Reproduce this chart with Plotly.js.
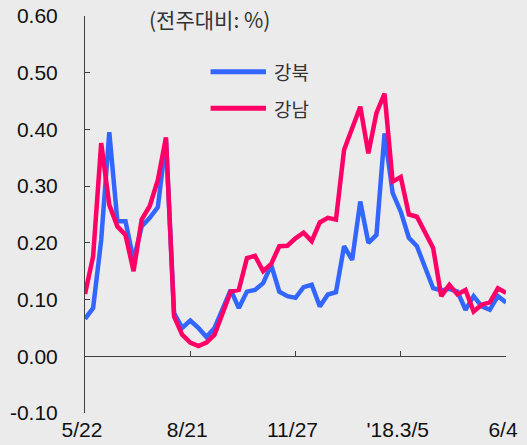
<!DOCTYPE html>
<html>
<head>
<meta charset="utf-8">
<script src="https://cdn.plot.ly/plotly-3.0.1.min.js"></script>
<style>
  html, body { margin: 0; padding: 0; background: #ebebeb; }
  #chart { width: 527px; height: 445px; }
</style>
</head>
<body>
<div id="chart"></div>
<script>
// Weekly apartment price change (week over week, %), 53 weeks
const weeks = Array.from({length: 53}, (_, i) => i);

const gangbuk = [
  0.066, 0.085, 0.205, 0.395, 0.238, 0.238, 0.170, 0.229, 0.244, 0.263,
  0.382, 0.076, 0.050, 0.063, 0.050, 0.034, 0.050, 0.085, 0.117, 0.085,
  0.114, 0.117, 0.129, 0.161, 0.114, 0.106, 0.103, 0.122, 0.126, 0.088,
  0.109, 0.113, 0.194, 0.170, 0.273, 0.200, 0.214, 0.393, 0.288, 0.255,
  0.209, 0.194, 0.156, 0.120, 0.116, 0.119, 0.114, 0.082, 0.106, 0.088,
  0.082, 0.106, 0.095
];

const gangnam = [
  0.110, 0.176, 0.376, 0.267, 0.229, 0.214, 0.150, 0.241, 0.265, 0.311,
  0.386, 0.070, 0.038, 0.024, 0.018, 0.024, 0.038, 0.076, 0.114, 0.117,
  0.173, 0.177, 0.150, 0.163, 0.194, 0.195, 0.208, 0.218, 0.203, 0.236,
  0.244, 0.241, 0.364, 0.402, 0.440, 0.358, 0.429, 0.463, 0.308, 0.316,
  0.250, 0.246, 0.217, 0.191, 0.106, 0.126, 0.109, 0.117, 0.079, 0.091,
  0.095, 0.120, 0.112
];

const seriesNames = ['강북', '강남'];
const seriesColors = ['#3366ff', '#ff0066'];

const tickWeeks = [0, 13, 26, 39, 52];
const tickLabels = ['5/22', '8/21', '11/27', "'18.3/5", '6/4'];

const yTickVals = [-0.1, 0, 0.1, 0.2, 0.3, 0.4, 0.5, 0.6];
const yTickLabels = ['-0.10', '0.00', '0.10', '0.20', '0.30', '0.40', '0.50', '0.60'];

const unitNote = '(전주대비: %)';

const axisColor = '#404040';
const labelFont = {family: 'Liberation Sans, Arial, sans-serif', size: 21, color: '#111'};
const hangulFont = {family: 'Noto Sans CJK KR, sans-serif', size: 19, color: '#333'};

const traces = [gangbuk, gangnam].map((vals, k) => ({
  x: weeks,
  y: vals,
  type: 'scatter',
  mode: 'lines',
  name: seriesNames[k],
  line: {color: seriesColors[k], width: 4.5},
  xaxis: 'x',
  yaxis: 'y',
  hoverinfo: 'skip'
}));

// hand-built legend: a short line and a label for each series
const legendY = [0.8597, 0.7675];
const legendShapes = legendY.map((py, k) => ({
  type: 'line', xref: 'paper', yref: 'paper',
  x0: 0.2983, x1: 0.4299, y0: py, y1: py,
  line: {color: seriesColors[k], width: 5}
}));
const legendLabels = legendY.map((py, k) => ({
  xref: 'paper', yref: 'paper', x: 0.443, y: py,
  xanchor: 'left', yanchor: 'middle', showarrow: false,
  text: seriesNames[k], font: hangulFont
}));

const layout = {
  width: 527,
  height: 445,
  paper_bgcolor: '#ebebeb',
  plot_bgcolor: '#ebebeb',
  showlegend: false,
  margin: {l: 85.3, r: 21.3, t: 16, b: 32, pad: 0},
  xaxis: {
    range: [0, 52],
    tickvals: tickWeeks,
    ticktext: tickLabels,
    ticks: '',
    showline: false,
    showgrid: false,
    zeroline: false,
    tickfont: labelFont,
    ticklabelshift: -3,
    ticklabelstandoff: 2
  },
  // baseline at zero carrying the week tick marks
  xaxis2: {
    overlaying: 'x',
    matches: 'x',
    anchor: 'free',
    position: 1 / 7,
    range: [0, 52],
    tickvals: tickWeeks,
    ticks: 'inside',
    ticklen: 5,
    tickcolor: axisColor,
    showticklabels: false,
    showline: true,
    linecolor: axisColor,
    linewidth: 1,
    showgrid: false,
    zeroline: false
  },
  yaxis: {
    range: [-0.1, 0.6],
    tickvals: yTickVals,
    ticktext: yTickLabels,
    ticks: 'inside',
    ticklen: 5,
    tickcolor: axisColor,
    showline: true,
    linecolor: axisColor,
    linewidth: 1,
    showgrid: false,
    zeroline: false,
    tickfont: labelFont,
    ticklabelstandoff: 22
  },
  shapes: legendShapes,
  annotations: [
    {
      xref: 'paper', yref: 'paper', x: 0.2966, y: 0.9924,
      xanchor: 'center', yanchor: 'middle', showarrow: false,
      text: unitNote, font: {family: 'Noto Sans CJK KR, sans-serif', size: 21, color: '#333'}
    }
  ].concat(legendLabels)
};

// an invisible trace keeps the zero baseline axis drawn
traces.unshift({x: [0, 52], y: [0, 0], xaxis: 'x2', yaxis: 'y', mode: 'lines',
  line: {width: 0}, showlegend: false, hoverinfo: 'skip', type: 'scatter'});

Plotly.newPlot('chart', traces, layout, {displayModeBar: false, staticPlot: true});
</script>
</body>
</html>
